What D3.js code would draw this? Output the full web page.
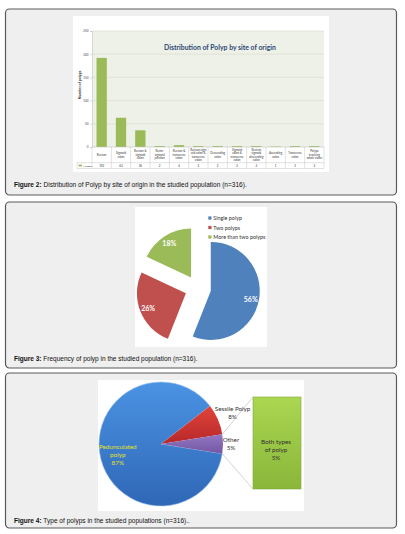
<!DOCTYPE html>
<html>
<head>
<meta charset="utf-8">
<script src="https://cdn.jsdelivr.net/npm/d3@7/dist/d3.min.js"></script>
<style>
  html, body { margin: 0; padding: 0; background: #ffffff; }
  svg { display: block; }
</style>
</head>
<body>
<svg id="page" width="405" height="534"></svg>
<script>
// ---------- DATA ----------
const siteCategories = [
  "Rectum", "Sigmoid colon", "Rectum & sigmoid colon", "Recto- sigmoid junction",
  "Rectum & transverse colon", "Rectum sigm oid colon & transverse colon",
  "Descending colon", "Sigmoid colon & transverse colon", "Rectum sigmoid descending colon",
  "Ascending colon", "Transverse colon", "Polyps involving whole colon"
];
const siteValues = [192, 63, 36, 2, 4, 2, 2, 2, 2, 1, 2, 2];
const siteTicks = [0, 50, 100, 150, 200, 250];
const siteSeriesName = "Number";

const countLabels = ["Single polyp", "Two polyps", "More than two polyps"];
const countValues = [56, 26, 18];

const typeLabels = ["Pedunculated polyp", "Sessile Polyp", "Other"];
const typeValues = [87, 8, 5];
const otherLabels = ["Both types of polyp"];
const otherValues = [5];

const captions = [
  ["Figure 2:", " Distribution of Polyp by site of origin in the studied population (n=316)."],
  ["Figure 3:", " Frequency of polyp in the studied population (n=316)."],
  ["Figure 4:", " Type of polyps in the studied populations (n=316).."]
];

// ---------- PAGE ----------
const svg = d3.select("#page");
const chartFont = "Lato, 'Open Sans', sans-serif";
const defs = svg.append("defs");

const panels = [
  {y: 9, h: 186, capY: 186.5, capW: 233},
  {y: 202, h: 166, capY: 360.5, capW: 184},
  {y: 373, h: 155, capY: 523, capW: 176}
];
panels.forEach((p, i) => {
  svg.append("rect").attr("x", 5.5).attr("y", p.y).attr("width", 391).attr("height", p.h)
    .attr("rx", 4).attr("fill", "#efefef").attr("stroke", "#5a5a5a").attr("stroke-width", 1.2);
  const t = svg.append("text").attr("x", 14).attr("y", p.capY)
    .attr("font-family", "'Liberation Sans', Arial, sans-serif").attr("font-size", 6)
    .attr("fill", "#111");
  t.append("tspan").attr("font-weight", "bold").text(captions[i][0]);
  t.append("tspan").text(captions[i][1]);
  const len = t.node().getComputedTextLength();
  t.attr("font-size", 6 * p.capW / len);
});

// ---------- FIGURE 2 : bar chart ----------
(function() {
  const g = svg.append("g");
  g.append("rect").attr("x", 73).attr("y", 16).attr("width", 256).attr("height", 156).attr("fill", "#ffffff");
  const plot = {l: 92, r: 324, t: 31, b: 147};
  g.append("rect").attr("x", plot.l).attr("y", plot.t).attr("width", plot.r - plot.l)
    .attr("height", plot.b - plot.t).attr("fill", "#eef1e7");

  const x = d3.scaleBand().domain(siteCategories).range([plot.l, plot.r])
    .paddingInner(0.467).paddingOuter(0.2335);
  const y = d3.scaleLinear().domain([0, 250]).range([plot.b, plot.t]);

  g.selectAll(".grid").data(siteTicks.filter(d => d > 0)).join("line")
    .attr("x1", plot.l).attr("x2", plot.r)
    .attr("y1", d => y(d)).attr("y2", d => y(d))
    .attr("stroke", "#d6d8d0").attr("stroke-width", 0.6);

  const yAxis = d3.axisLeft(y).tickValues(siteTicks).tickSize(2).tickPadding(1.5);
  const ya = g.append("g").attr("transform", `translate(${plot.l},0)`).call(yAxis);
  ya.select(".domain").attr("stroke", "#bfbfbf").attr("stroke-width", 0.5);
  ya.selectAll(".tick line").attr("stroke", "#bfbfbf").attr("stroke-width", 0.5);
  ya.selectAll(".tick text").attr("font-size", 3).attr("font-family", chartFont).attr("fill", "#444");

  g.append("text").attr("transform", `translate(80.5,85) rotate(-90)`)
    .attr("text-anchor", "middle").attr("font-size", 3.6).attr("font-weight", "bold")
    .attr("font-family", chartFont).attr("fill", "#333").text("Number of polyps");

  g.selectAll(".bar").data(siteValues).join("rect")
    .attr("x", (d, i) => x(siteCategories[i])).attr("width", x.bandwidth())
    .attr("y", d => y(d)).attr("height", d => plot.b - y(d))
    .attr("fill", "#9bbb59");

  const title = g.append("text").attr("x", 220).attr("y", 50).attr("text-anchor", "middle")
    .attr("font-family", chartFont).attr("font-size", 8).attr("font-weight", "bold").attr("fill", "#2c4775")
    .text("Distribution of Polyp by site of origin");
  const tl = title.node().getComputedTextLength();
  title.attr("font-size", 8 * 112 / tl);

  const rowTop = plot.b, rowMid = 162.7, rowBot = 168.5, legL = 77;
  const lc = "#c4c4c4";
  g.append("line").attr("x1", plot.l).attr("x2", plot.r).attr("y1", rowTop).attr("y2", rowTop)
    .attr("stroke", "#bfbfbf").attr("stroke-width", 0.6);
  [rowMid, rowBot].forEach(yy => g.append("line").attr("x1", legL).attr("x2", plot.r)
    .attr("y1", yy).attr("y2", yy).attr("stroke", lc).attr("stroke-width", 0.5));
  const bounds = siteCategories.map(c => x(c) - x.step() * x.paddingInner() / 2).concat([plot.r]);
  bounds[0] = plot.l;
  g.selectAll(".vline").data(bounds).join("line")
    .attr("x1", d => d).attr("x2", d => d).attr("y1", rowTop).attr("y2", rowBot)
    .attr("stroke", lc).attr("stroke-width", 0.5);
  g.append("line").attr("x1", legL).attr("x2", legL).attr("y1", rowMid).attr("y2", rowBot)
    .attr("stroke", lc).attr("stroke-width", 0.5);

  function wrap(s, max) {
    const words = s.split(" "); const lines = []; let cur = "";
    words.forEach(w => {
      if (cur && (cur + " " + w).length > max) { lines.push(cur); cur = w; }
      else cur = cur ? cur + " " + w : w;
    });
    if (cur) lines.push(cur);
    return lines;
  }
  siteCategories.forEach((c, i) => {
    const lines = wrap(c, 11);
    const cx = x(c) + x.bandwidth() / 2;
    const lh = 3.4;
    const y0 = (rowTop + rowMid) / 2 - (lines.length - 1) * lh / 2 + 1;
    const t = g.append("text").attr("text-anchor", "middle").attr("font-size", 2.9)
      .attr("font-family", chartFont).attr("fill", "#333");
    lines.forEach((ln, k) => t.append("tspan").attr("x", cx).attr("y", y0 + k * lh).text(ln));
    g.append("text").attr("x", cx).attr("y", (rowMid + rowBot) / 2 + 1).attr("text-anchor", "middle")
      .attr("font-size", 2.9).attr("font-family", chartFont).attr("fill", "#333").text(siteValues[i]);
  });
  g.append("rect").attr("x", 78.5).attr("y", 164.6).attr("width", 3.5).attr("height", 1.8).attr("fill", "#9bbb59");
  g.append("text").attr("x", 83).attr("y", 166.6).attr("font-size", 2.6)
    .attr("font-family", chartFont).attr("fill", "#333").text(siteSeriesName);
})();

// ---------- FIGURE 3 : exploded pie ----------
(function() {
  const g = svg.append("g");
  g.append("rect").attr("x", 135).attr("y", 207).attr("width", 132).attr("height", 140).attr("fill", "#ffffff");
  const colors = ["#4f81bd", "#c0504d", "#9bbb59"];
  const cx = 198, cy = 288.5, r = 49, explode = 13;
  const arcs = d3.pie().sort(null).startAngle(0).endAngle(2 * Math.PI)(countValues);
  const arc = d3.arc().innerRadius(0).outerRadius(r);
  arcs.forEach((a, i) => {
    const mid = (a.startAngle + a.endAngle) / 2;
    const ox = cx + explode * Math.sin(mid), oy = cy - explode * Math.cos(mid);
    const sg = g.append("g").attr("transform", `translate(${ox},${oy})`);
    sg.append("path").attr("d", arc(a)).attr("fill", colors[i]);
    const lr = r * 0.83;
    sg.append("text").attr("x", lr * Math.sin(mid)).attr("y", -lr * Math.cos(mid))
      .attr("text-anchor", "middle").attr("dominant-baseline", "central")
      .attr("font-family", chartFont).attr("font-size", 7).attr("font-weight", "bold")
      .attr("fill", "#ffffff").text(countValues[i] + "%");
  });
  countLabels.forEach((l, i) => {
    const yy = 218 + i * 9.5;
    g.append("rect").attr("x", 208.3).attr("y", yy - 1.6).attr("width", 3.2).attr("height", 3.2).attr("fill", colors[i]);
    g.append("text").attr("x", 213.3).attr("y", yy).attr("dominant-baseline", "central")
      .attr("font-family", chartFont).attr("font-size", 5.4).attr("fill", "#333").text(l);
  });
})();

// ---------- FIGURE 4 : pie of pie ----------
(function() {
  const g = svg.append("g");
  g.append("rect").attr("x", 98).attr("y", 380).attr("width", 206).attr("height", 131).attr("fill", "#ffffff");
  const grads = [["gBlue", "#4b93e3", "#2f67b6"], ["gRed", "#e0443a", "#b7282a"], ["gPurple", "#9477c2", "#7457a3"], ["gGreen", "#aad652", "#8ab73a"]];
  grads.forEach(([id, c1, c2]) => {
    const lg = defs.append("linearGradient").attr("id", id).attr("x1", 0).attr("y1", 0).attr("x2", 0).attr("y2", 1);
    lg.append("stop").attr("offset", "0%").attr("stop-color", c1);
    lg.append("stop").attr("offset", "100%").attr("stop-color", c2);
  });
  const fills = ["url(#gBlue)", "url(#gRed)", "url(#gPurple)"];
  const cx = 161, cy = 444, r = 62;
  const total = d3.sum(typeValues);
  const otherAngle = typeValues[2] / total * 2 * Math.PI;
  const start = Math.PI / 2 + otherAngle / 2;
  const arcs = d3.pie().sort(null).startAngle(start).endAngle(start + 2 * Math.PI)(typeValues);
  const arc = d3.arc().innerRadius(0).outerRadius(r);
  const pg = g.append("g").attr("transform", `translate(${cx},${cy})`);
  arcs.forEach((a, i) => {
    pg.append("path").attr("d", arc(a)).attr("fill", fills[i])
      .attr("stroke", i === 0 ? "#9cc4f0" : "none").attr("stroke-width", 0.6);
  });

  const bx = 253, bw = 48;
  const by = d3.scaleLinear().domain([0, d3.sum(otherValues)]).range([489, 397]);
  g.append("rect").attr("x", bx).attr("y", by(otherValues[0])).attr("width", bw)
    .attr("height", by(0) - by(otherValues[0])).attr("fill", "url(#gGreen)")
    .attr("stroke", "#7fa83a").attr("stroke-width", 0.6);

  const oa = arcs[2];
  const p1 = [cx + r * Math.sin(oa.startAngle), cy - r * Math.cos(oa.startAngle)];
  const p2 = [cx + r * Math.sin(oa.endAngle), cy - r * Math.cos(oa.endAngle)];
  g.append("line").attr("x1", p1[0]).attr("y1", p1[1]).attr("x2", bx).attr("y2", by(otherValues[0]))
    .attr("stroke", "#b5b5b5").attr("stroke-width", 0.6);
  g.append("line").attr("x1", p2[0]).attr("y1", p2[1]).attr("x2", bx).attr("y2", by(0))
    .attr("stroke", "#b5b5b5").attr("stroke-width", 0.6);

  function multi(lines, x0, y0, color) {
    const t = g.append("text").attr("text-anchor", "middle").attr("font-family", chartFont)
      .attr("font-size", 6.3).attr("fill", color);
    lines.forEach((ln, k) => t.append("tspan").attr("x", x0).attr("y", y0 + k * 8).attr("dy", "0.35em").text(ln));
  }
  const labelR = [r * 0.72, 78, 70];
  arcs.forEach((a, i) => {
    const mid = (a.startAngle + a.endAngle) / 2;
    let lx = cx + labelR[i] * Math.sin(mid), ly = cy - labelR[i] * Math.cos(mid);
    let lines;
    if (i === 0) lines = ["Pedunculated", "polyp", typeValues[i] + "%"];
    else lines = [typeLabels[i], typeValues[i] + "%"];
    multi(lines, lx, ly - (lines.length - 1) * 4, i === 0 ? "#e2e21c" : "#333333");
  });
  multi(["Both types", "of polyp", otherValues[0] + "%"], bx + bw / 2 - 1, (by(0) + by(otherValues[0])) / 2 - 1, "#333333");
})();
</script>
</body>
</html>
